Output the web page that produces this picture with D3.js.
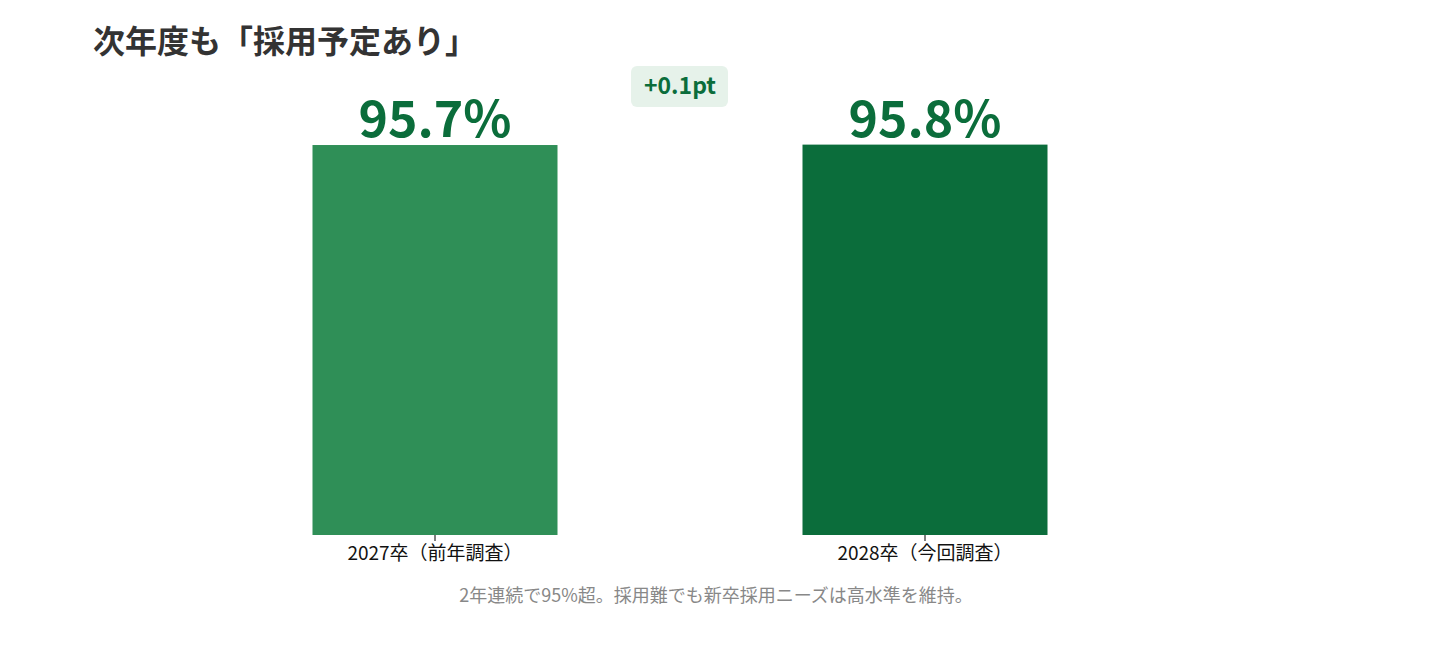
<!DOCTYPE html>
<html><head><meta charset="utf-8">
<script src="https://cdn.jsdelivr.net/npm/d3@7"></script>
<style>body{margin:0;background:#fff;font-family:"Noto Sans CJK JP","Noto Sans",sans-serif}</style>
</head><body>
<svg id="c" width="1432" height="650"></svg>
<script>
const categories = ['2027卒（前年調査）', '2028卒（今回調査）']
const values = [95.7, 95.8]
const colors = ['#2f8f57', '#0b6d3b']
const diffLabel = '+0.1pt'
const title = '次年度も「採用予定あり」'
const note = '2年連続で95%超。採用難でも新卒採用ニーズは高水準を維持。'

const svg = d3.select('#c')
const x = d3.scaleBand().domain(categories).range([190, 1170]).paddingInner(0.5).paddingOuter(0.25)
const y = d3.scaleLinear().domain([0, 100]).range([535, 127.5])

svg.append('text').attr('x', 93).attr('y', 53).attr('font-size', 32).attr('font-weight', 700)
  .attr('fill', '#333').text(title)

svg.selectAll('rect.bar').data(values).join('rect').attr('class', 'bar')
  .attr('x', (d, i) => x(categories[i])).attr('width', x.bandwidth())
  .attr('y', d => y(d)).attr('height', d => y(0) - y(d))
  .attr('fill', (d, i) => colors[i])

svg.selectAll('text.val').data(values).join('text').attr('class', 'val')
  .attr('x', (d, i) => x(categories[i]) + x.bandwidth() / 2).attr('y', d => y(d) - 8)
  .attr('text-anchor', 'middle').attr('font-size', 50).attr('font-weight', 700)
  .attr('fill', '#0b6d3b').text(d => d.toFixed(1) + '%')

const ax = svg.append('g').attr('transform', `translate(0,${y(0)})`)
  .call(d3.axisBottom(x).tickSize(6).tickPadding(6))
ax.select('.domain').remove()
ax.selectAll('text').attr('font-size', 19).attr('fill', '#111').attr('font-family', '"Noto Sans CJK JP",sans-serif')

const bx = (x(categories[0]) + x(categories[1]) + x.bandwidth()) / 2
svg.append('rect').attr('x', bx - 49).attr('y', 66).attr('width', 97).attr('height', 41)
  .attr('rx', 6).attr('fill', '#e6f2ea')
svg.append('text').attr('x', bx).attr('y', 94).attr('text-anchor', 'middle')
  .attr('font-size', 23).attr('font-weight', 700).attr('fill', '#0b6d3b').text(diffLabel)

svg.append('text').attr('x', 716).attr('y', 602).attr('text-anchor', 'middle')
  .attr('font-size', 18).attr('fill', '#888').text(note)
</script>
</body></html>
